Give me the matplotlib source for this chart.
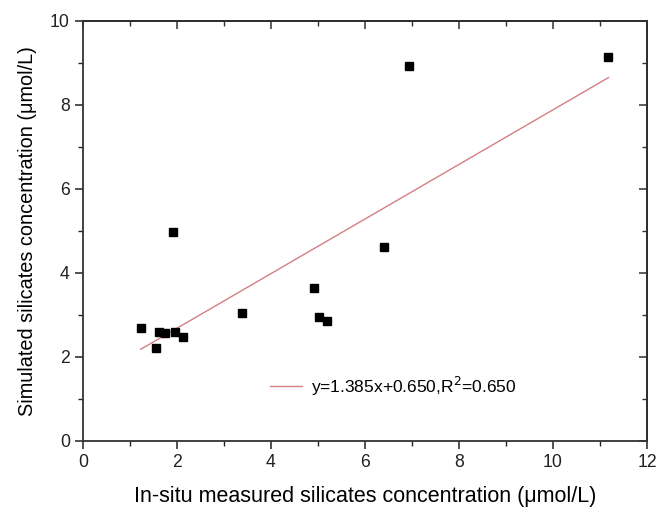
import matplotlib.pyplot as plt
import numpy as np

plt.rcParams['font.family'] = ['Liberation Sans', 'DejaVu Sans']

# in-situ measured vs simulated silicates (umol/L)
measured = [1.23, 1.62, 1.74, 1.56, 1.96, 2.13, 1.91, 3.38, 4.92, 5.03, 5.19, 6.41, 6.94, 11.18]
simulated = [2.68, 2.59, 2.57, 2.22, 2.60, 2.48, 4.98, 3.05, 3.64, 2.95, 2.86, 4.62, 8.94, 9.15]

# fitted line as drawn in the figure
fit_slope = 0.650
fit_intercept = 1.385
fit_label = "y=1.385x+0.650,R$^2$=0.650"

fig = plt.figure(figsize=(6.72, 5.13), dpi=100)
ax = fig.add_axes([0.1235, 0.1404, 0.8393, 0.8187])

ax.plot(measured, simulated, 's', color='black', ms=6.2, zorder=3)

xf = np.array([min(measured), max(measured)])
ax.plot(xf, fit_slope * xf + fit_intercept, color='#d47f84', lw=1.0, label=fit_label)

ax.set_xlim(0, 12)
ax.set_ylim(0, 10)
ax.set_xticks(range(0, 13, 2))
ax.set_yticks(range(0, 11, 2))
ax.set_xticks(range(1, 12, 2), minor=True)
ax.set_yticks(range(1, 10, 2), minor=True)
ax.tick_params(which='major', direction='out', length=6, width=1.1, labelsize=12.7, colors='#222222')
ax.tick_params(which='minor', direction='out', length=3.5, width=1.0, colors='#222222')
for s in ax.spines.values():
    s.set_linewidth(1.3)
    s.set_color('#333333')

top = ax.secondary_xaxis('top')
top.set_xticks(range(0, 13, 2))
top.set_xticks(range(1, 12, 2), minor=True)
top.tick_params(which='major', direction='in', length=6, width=1.1, labelsize=0, labeltop=False, colors='#333333')
top.tick_params(which='minor', direction='in', length=3.5, width=1.0, colors='#333333')
top.spines['top'].set_linewidth(1.3)
right = ax.secondary_yaxis('right')
right.set_yticks(range(0, 11, 2))
right.set_yticks(range(1, 10, 2), minor=True)
right.tick_params(which='major', direction='in', length=6, width=1.1, labelsize=0, labelright=False, colors='#333333')
right.tick_params(which='minor', direction='in', length=3.5, width=1.0, colors='#333333')
right.spines['right'].set_linewidth(1.3)

ax.set_xlabel("In-situ measured silicates concentration (\u03bcmol/L)", fontsize=15.5, labelpad=11)
ax.set_ylabel("Simulated silicates concentration (\u03bcmol/L)", fontsize=14.3, labelpad=9)

ax.legend(loc='center left', bbox_to_anchor=(0.303, 0.131), frameon=False, fontsize=12.5,
          handlelength=1.9, handletextpad=0.5)

fig.savefig('out.png', dpi=100)
